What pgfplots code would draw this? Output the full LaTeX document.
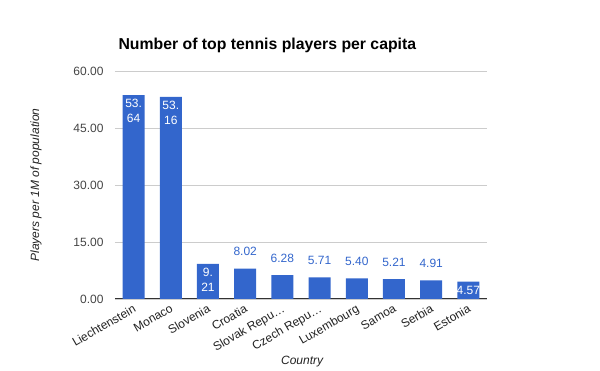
\documentclass[border=0pt]{standalone}
\usepackage{pgfplots}
\pgfplotsset{compat=1.18}
\usepackage{fontspec}
\setmainfont{Liberation Sans}
\definecolor{barblue}{HTML}{3366CC}
\definecolor{gridgray}{HTML}{CCCCCC}
\definecolor{ticktext}{HTML}{444444}
\definecolor{labtext}{HTML}{222222}
\definecolor{zeroline}{HTML}{333333}
\begin{document}
\begin{tikzpicture}
\path[use as bounding box] (-115pt,-72pt) rectangle (485pt,299pt);
\begin{axis}[
  at={(0,0)}, anchor=south west,
  scale only axis, width=372pt, height=228pt,
  xmin=-0.5, xmax=9.5, ymin=0, ymax=60,
  xtick={0,...,9},
  xticklabels={Liechtenstein,Monaco,Slovenia,Croatia,Slovak Repu…,Czech Repu…,Luxembourg,Samoa,Serbia,Estonia},
  ytick={0,15,30,45,60},
  /pgf/number format/assume math mode=true,
  yticklabel style={/pgf/number format/fixed, /pgf/number format/fixed zerofill, /pgf/number format/precision=2, font=\fontsize{12pt}{14pt}\selectfont, text=ticktext, xshift=-8pt},
  xticklabel style={rotate=30, anchor=north east, font=\fontsize{12pt}{14pt}\selectfont, text=labtext},
  major tick length=0pt,
  axis x line*=bottom, axis y line*=left,
  x axis line style={draw=zeroline, line width=1pt, -},
  y axis line style={draw=none},
  ymajorgrids, grid style={gridgray, line width=0.8pt},
  every axis title/.style={at={(axis description cs:0,1)}, anchor=base west, yshift=21pt, font=\fontsize{15.8pt}{18pt}\selectfont\bfseries},
  title={Number of top tennis players per capita},
  every axis y label/.style={at={(axis description cs:-0.212,0.5)}, rotate=90, anchor=center, font=\fontsize{12pt}{14pt}\selectfont\itshape, text=labtext},
  ylabel={Players per 1M of population},
  every axis x label/.style={at={(axis description cs:0.503,-0.276)}, anchor=center, font=\fontsize{12pt}{14pt}\selectfont\itshape, text=labtext},
  xlabel={Country},
]
\addplot[ybar, bar width=22pt, bar shift=0pt, fill=barblue, draw=none] coordinates {
(0,53.64) (1,53.16) (2,9.21) (3,8.02) (4,6.28) (5,5.71) (6,5.40) (7,5.21) (8,4.91) (9,4.57)};
% blue labels above bars
\addplot[draw=none, mark=none, nodes near coords, point meta=explicit symbolic,
  nodes near coords style={anchor=center, yshift=17pt, text=barblue, font=\fontsize{12pt}{14pt}\selectfont}] coordinates {
(3,8.02) [8.02] (4,6.28) [6.28] (5,5.71) [5.71] (6,5.40) [5.40] (7,5.21) [5.21] (8,4.91) [4.91]};
% white labels inside bars, first line
\addplot[draw=none, mark=none, nodes near coords, point meta=explicit symbolic,
  nodes near coords style={anchor=center, yshift=-8.5pt, text=white, font=\fontsize{12pt}{14pt}\selectfont}] coordinates {
(0,53.64) [53.] (1,53.16) [53.] (2,9.21) [9.]};
% white labels inside bars, second line
\addplot[draw=none, mark=none, nodes near coords, point meta=explicit symbolic,
  nodes near coords style={anchor=center, yshift=-23.5pt, text=white, font=\fontsize{12pt}{14pt}\selectfont}] coordinates {
(0,53.64) [64] (1,53.16) [16] (2,9.21) [21]};
% white label for Estonia
\addplot[draw=none, mark=none, nodes near coords, point meta=explicit symbolic,
  nodes near coords style={anchor=center, yshift=-8.7pt, text=white, font=\fontsize{12pt}{14pt}\selectfont}] coordinates {
(9,4.57) [4.57]};
\end{axis}
\end{tikzpicture}
\end{document}
